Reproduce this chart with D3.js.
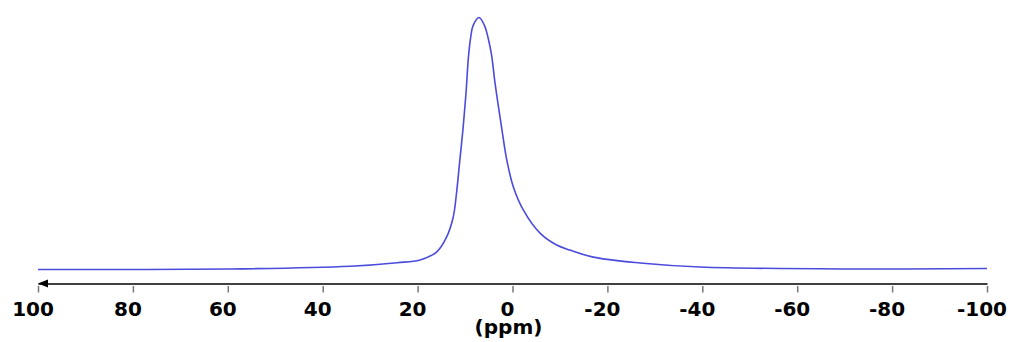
<!DOCTYPE html>
<html>
<head>
<meta charset="utf-8">
<script src="https://cdn.jsdelivr.net/npm/d3@7"></script>
<style>
  html, body { margin: 0; padding: 0; background: #fff; }
  svg { display: block; }
  .tick text, .axis-label { font-family: "DejaVu Sans", sans-serif; font-weight: bold; fill: #000; }
</style>
</head>
<body>
<svg id="chart" width="1010" height="342"></svg>
<script>
// chemical shift (ppm) and signal intensity (peak = 100)
const shiftPpm = [100, 59.5, 34.2, 24.3, 19.5, 16.0, 13.9, 12.5, 11.8, 11.1, 10.4, 9.8, 9.3, 8.85, 8.3, 7.05,
  5.9, 5.1, 4.4, 3.7, 2.3, 1.2, -0.2, -2.3, -5.8, -9.3, -12.1, -17.0, -26.9, -39.5, -71.1, -100];
const intensity = [0.2, 0.4, 1.5, 2.9, 4.0, 7.1, 13.0, 20.9, 30.4, 43.5, 56.5, 70.0, 84.0, 91.6, 96.8, 100,
  96.8, 91.6, 85.0, 74.3, 56.5, 43.5, 32.8, 23.7, 14.6, 9.9, 7.9, 5.1, 2.8, 1.2, 0.4, 0.6];
const tickValues = [100, 80, 60, 40, 20, 0, -20, -40, -60, -80, -100];
const axisTitle = "(ppm)";

const svg = d3.select("#chart");
const x = d3.scaleLinear().domain([100, -100]).range([38, 987]);
const y = d3.scaleLinear().domain([0, 100]).range([270, 17.5]);

const points = shiftPpm.map((p, i) => ({ ppm: p, val: intensity[i] }));

const line = d3.line()
  .x((d) => x(d.ppm))
  .y((d) => y(d.val))
  .curve(d3.curveCatmullRom.alpha(0.5));

svg.append("path")
  .datum(points)
  .attr("fill", "none")
  .attr("stroke", "#4b4bdc")
  .attr("stroke-width", 1.6)
  .attr("d", line);

// x axis
const axisY = 283.5;
const xAxis = d3.axisBottom(x)
  .tickValues(tickValues)
  .tickFormat((d) => d3.format("d")(d).replace("−", "-"))
  .tickSizeOuter(0);

const axisG = svg.append("g")
  .attr("transform", `translate(0, ${axisY})`)
  .call(xAxis);

axisG.select(".domain")
  .attr("stroke", "#000")
  .attr("stroke-width", 1.5);

axisG.selectAll(".tick line")
  .attr("y1", 2.5)
  .attr("y2", 9)
  .attr("stroke", "#777")
  .attr("stroke-width", 1.5);

axisG.selectAll(".tick text")
  .attr("y", 0)
  .attr("dy", 0)
  .attr("transform", "translate(-5.5, 32.5)")
  .style("font-size", "20px");

// arrow head at the left end
svg.append("path")
  .attr("d", d3.line()([[x(100), axisY], [x(100) + 10, axisY - 4], [x(100) + 10, axisY + 4]]) + "Z")
  .attr("fill", "#000");

svg.append("text")
  .attr("class", "axis-label")
  .attr("x", x(0) - 4)
  .attr("y", 334)
  .attr("text-anchor", "middle")
  .style("font-size", "20px")
  .text(axisTitle);
</script>
</body>
</html>
